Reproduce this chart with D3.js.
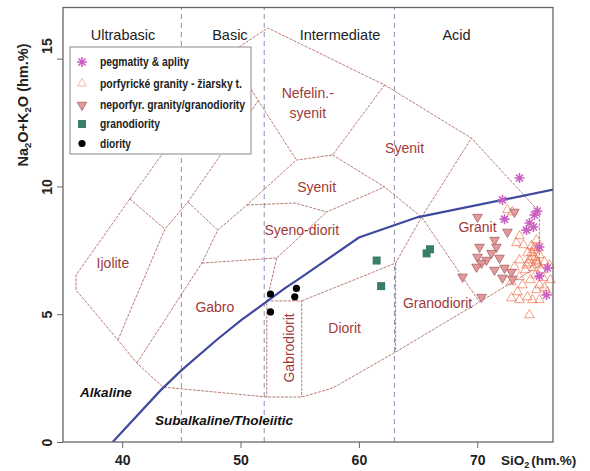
<!DOCTYPE html>
<html><head><meta charset="utf-8">
<script src="https://cdn.jsdelivr.net/npm/d3@7"></script>
<style>body{margin:0;background:#fff}</style>
</head><body><svg id="c" width="590" height="471"></svg>
<script>
// ---- series (SiO2 wt.%, Na2O+K2O wt.%) ----
const pegSiO2 = [73.57,72.13,72.30,74.83,74.41,74.75,74.16,75.25,75.93,75.25,75.85,75.08];
const pegAlk  = [10.33,9.47,8.72,8.88,8.57,8.41,8.29,7.63,6.81,6.49,5.75,9.04];

const porfSiO2 = [72.55,72.97,73.57,73.31,75.00,74.58,74.24,73.57,73.14,73.57,73.82,72.89,73.57,74.24,75.00,74.66,75.25,75.68,76.18,74.41,74.83,75.25,74.41,75.08,74.75,74.07,75.42,74.92,74.49,75.59,75.25,75.93,74.16,74.66,75.17,73.90,75.68,76.10,72.89,73.40,74.60,74.90,75.10,74.30,74.80,75.00];
const porfAlk  = [9.08,9.00,8.06,7.79,7.90,7.67,7.39,7.12,6.85,6.46,6.14,5.63,5.56,5.67,5.95,5.56,5.56,6.03,6.34,4.97,7.51,7.32,7.12,7.04,6.81,6.73,6.73,6.53,6.34,6.42,6.14,5.87,6.92,7.24,7.59,7.71,7.04,6.92,6.26,5.87,7.40,7.20,6.95,7.00,7.60,7.10];

const neporSiO2 = [73.14,70.02,72.55,71.46,70.19,71.62,71.20,70.02,70.78,70.36,69.94,71.46,72.30,72.13,72.89,72.97,68.76,70.36,71.88];
const neporAlk  = [9.00,8.80,8.22,7.90,7.63,7.63,7.39,7.24,7.12,7.00,6.85,6.73,6.81,6.42,6.65,6.38,6.46,5.67,7.20];

const grdSiO2 = [61.50,61.88,65.72,66.01];
const grdAlk  = [7.10,6.10,7.38,7.54];

const dioSiO2 = [52.53,54.72,54.58,52.53];
const dioAlk  = [5.79,6.01,5.68,5.09];

// alkaline / subalkaline divide
const divSiO2 = [39.2,40,43.2,45,48,50,53.7,55,60,65,77];
const divAlk  = [0,0.4,2,2.8,4,4.75,6,6.4,8,8.8,9.93];

// axis ticks and silica classes
const xTicks = [40,50,60,70];
const yTicks = [0,5,10,15];
const classBreaks = [45,52,63];
const classNames = ["Ultrabasic","Basic","Intermediate","Acid"];
const classPos = [40.07,49.1,58.4,68.25];

// field boundary vertices
const V = {
  P1:[36.10,6.53], P2:[36.10,5.95], P3:[40.65,9.51], P4:[43.61,8.33], P5:[39.64,3.99],
  P6:[41.24,3.09], P7:[43.44,2.15], P8:[45.55,9.39], P9:[48.08,8.29], P10:[46.73,7.00],
  P11:[50.53,9.27], P12:[53.06,7.20], P13:[52.22,5.52], P14:[52.22,1.76], P15:[55.17,5.52],
  P16:[55.17,1.76], Pd:[63.1,7.0], P19:[63.1,3.52], P20:[57.78,2.11], P21:[70.19,5.48],
  P22:[65.3,8.8], P23:[69.51,11.89], P24:[75.25,9.0], P25:[75.25,6.89], P26:[62.17,9.98],
  P27:[57.78,11.23], P28:[54.72,11.03], P29:[57.28,9.0], P30:[54.58,9.35], P31:[62.17,13.97],
  P32:[52.3,16.2], Ct:[49.18,14.98], Jt:[51.54,13.38], Nt:[48.98,15.18]
};
const boundaries = [
  ["P3","P1","P2","P5","P6","P7","P14","P16","P20","P19","P21"],
  ["P3","Ct"], ["P3","P4"], ["P5","P4","P8","Jt"], ["P8","P9"],
  ["P6","P10","P9","P11","P28","P27","P31"], ["P10","P12","P29"],
  ["P12","P13","P14"], ["P13","P15","P16"], ["P15","Pd","P22"], ["Pd","P19"],
  ["P11","P30","P29","P26"], ["P27","P26","P22","P21"], ["P22","P23"],
  ["Nt","P28"], ["Nt","P32","P31","P23","P24","P25","P21"]
];

const fieldNames = ["Ijolite","Gabro","Diorit","Syeno-diorit","Syenit","Syenit","Granit","Granodiorit"];
const fieldX = [39.22,47.83,58.80,55.17,56.43,63.86,70.02,66.65];
const fieldY = [7.0,5.28,4.46,8.29,9.98,11.50,8.41,5.44];

const FONT = "Liberation Sans, Arial, sans-serif";
const svg = d3.select("#c");
const x = d3.scaleLinear().domain([35, 76.4]).range([63, 553]);
const y = d3.scaleLinear().domain([0, 17]).range([442, 7.5]);

svg.append("defs").append("clipPath").attr("id","plot")
  .append("rect").attr("x",63).attr("y",7.5).attr("width",490).attr("height",434.5);

const plot = svg.append("g").attr("clip-path","url(#plot)");

// silica class dividers
plot.selectAll("line.cls").data(classBreaks).join("line")
  .attr("x1",d=>x(d)).attr("x2",d=>x(d)).attr("y1",y(0)).attr("y2",y(17))
  .attr("stroke","#8c8fb8").attr("stroke-width",1).attr("stroke-dasharray","5,4");

// field boundaries
const line = d3.line().x(d=>x(d[0])).y(d=>y(d[1]));
plot.selectAll("path.bd").data(boundaries).join("path")
  .attr("d",b=>line(b.map(k=>V[k]))).attr("fill","none")
  .attr("stroke","#a65a52").attr("stroke-width",0.8).attr("stroke-dasharray","3,1.2");

// alkaline/subalkaline divide
plot.append("path").datum(divSiO2.map((s,i)=>[s,divAlk[i]]))
  .attr("d",line).attr("fill","none").attr("stroke","#3f4a9e").attr("stroke-width",2.2);

// class names
svg.selectAll("text.cls").data(classNames).join("text")
  .attr("x",(d,i)=>x(classPos[i])).attr("y",40).attr("text-anchor","middle")
  .attr("font-family",FONT).attr("font-size",14.5).attr("fill","#222")
  .text(d=>d);

// field labels
const fl = svg.append("g").attr("font-family",FONT)
  .attr("font-size",14).attr("fill","#a03a3a").attr("text-anchor","middle");
fl.selectAll("text").data(fieldNames).join("text")
  .attr("x",(d,i)=>x(fieldX[i])).attr("y",(d,i)=>y(fieldY[i])+5).text(d=>d);
fl.append("text").attr("x",x(55.68)).attr("y",y(13.65)+5).text("Nefelin.-");
fl.append("text").attr("x",x(55.68)).attr("y",y(12.99)+5+3).text("syenit");
fl.append("text").attr("transform",`translate(${x(54.07)+5},${y(3.68)}) rotate(-90)`).text("Gabrodiorit");

// labels either side of the divide
const it = svg.append("g").attr("font-family",FONT)
  .attr("font-size",13.5).attr("font-weight","bold").attr("font-style","italic").attr("fill","#111")
  .attr("text-anchor","middle");
it.append("text").attr("x",106).attr("y",397).text("Alkaline");
it.append("text").attr("x",224).attr("y",425).text("Subalkaline/Tholeiitic");

// symbols
const star = s => `M${-s},0H${s}M0,${-s}V${s}M${-s*0.7},${-s*0.7}L${s*0.7},${s*0.7}M${-s*0.7},${s*0.7}L${s*0.7},${-s*0.7}`;
const triUp = s => `M0,${-s}L${s*0.87},${s*0.5}L${-s*0.87},${s*0.5}Z`;
const triDn = s => `M0,${s}L${s*0.87},${-s*0.5}L${-s*0.87},${-s*0.5}Z`;

const pts = svg.append("g");
pts.selectAll("path.porf").data(porfSiO2).join("path")
  .attr("transform",(d,i)=>`translate(${x(d)},${y(porfAlk[i])})`).attr("d",triUp(5.5))
  .attr("fill","none").attr("stroke","#ef6e48").attr("stroke-opacity",0.75).attr("stroke-width",0.9);
pts.selectAll("path.nep").data(neporSiO2).join("path")
  .attr("transform",(d,i)=>`translate(${x(d)},${y(neporAlk[i])})`).attr("d",triDn(5.5))
  .attr("fill","#e49a9a").attr("stroke","#a86262").attr("stroke-width",0.8);
pts.selectAll("path.peg").data(pegSiO2).join("path")
  .attr("transform",(d,i)=>`translate(${x(d)},${y(pegAlk[i])})`).attr("d",star(5))
  .attr("fill","none").attr("stroke","#cc5fc2").attr("stroke-width",1.6);
pts.selectAll("rect.grd").data(grdSiO2).join("rect")
  .attr("x",d=>x(d)-4).attr("y",(d,i)=>y(grdAlk[i])-4).attr("width",8).attr("height",8)
  .attr("fill","#3a7d68");
pts.selectAll("circle.dio").data(dioSiO2).join("circle")
  .attr("cx",d=>x(d)).attr("cy",(d,i)=>y(dioAlk[i])).attr("r",3.6).attr("fill","#000");

// frame
svg.append("rect").attr("x",63).attr("y",7.5).attr("width",490).attr("height",434.5)
  .attr("fill","none").attr("stroke","#666").attr("stroke-width",1.3);

// axes
const xa = svg.append("g").attr("transform","translate(0,442)")
  .call(d3.axisBottom(x).tickValues(xTicks).tickSize(6).tickFormat(d3.format("d")));
xa.select(".domain").remove();
xa.selectAll("line").attr("stroke","#666");
xa.selectAll("text").attr("dy",null).attr("y",23).attr("font-size",14).attr("font-weight","bold")
  .attr("font-family",FONT).attr("fill","#222");

const ya = svg.append("g").attr("transform","translate(63,0)")
  .call(d3.axisLeft(y).tickValues(yTicks).tickSize(6).tickFormat(d3.format("d")));
ya.select(".domain").remove();
ya.selectAll("line").attr("stroke","#666");
// the top label sits above its tick so it clears the frame corner
ya.selectAll("text").attr("x",null).attr("dy",null).attr("text-anchor","middle")
  .attr("transform",d=>`translate(-16,${d===15?-13:0}) rotate(-90)`).attr("y",0).attr("dy","0.35em")
  .attr("font-size",14).attr("font-weight","bold")
  .attr("font-family",FONT).attr("fill","#222");

// axis titles
const xt = svg.append("text").attr("x",501).attr("y",465)
  .attr("font-family",FONT).attr("font-size",13.5)
  .attr("font-weight","bold").attr("fill","#222");
xt.append("tspan").text("SiO");
xt.append("tspan").attr("font-size",9).attr("dy",3).text("2");
xt.append("tspan").attr("dy",-3).text("(hm.%)").attr("dx",2);

const yt = svg.append("text").attr("transform","translate(28,105) rotate(-90)").attr("text-anchor","middle")
  .attr("font-family",FONT).attr("font-size",14.5)
  .attr("font-weight","bold").attr("fill","#222");
yt.append("tspan").text("Na");
yt.append("tspan").attr("font-size",9.5).attr("dy",3).text("2");
yt.append("tspan").attr("dy",-3).text("O+K");
yt.append("tspan").attr("font-size",9.5).attr("dy",3).text("2");
yt.append("tspan").attr("dy",-3).text("O (hm.%)");

// legend
const legNames = ["pegmatity & aplity","porfyrické granity - žiarsky t.","neporfyr. granity/granodiority","granodiority","diority"];
const legW = [89,142,145,60,31];
const legY = [62,83.5,105,124,143.5];
const lg = svg.append("g");
lg.append("rect").attr("x",70).attr("y",47).attr("width",181).attr("height",107)
  .attr("fill","#fff").attr("stroke","#888").attr("stroke-width",1);
lg.append("path").attr("transform",`translate(82,${legY[0]})`).attr("d",star(5)).attr("fill","none")
  .attr("stroke","#cc5fc2").attr("stroke-width",1.6);
lg.append("path").attr("transform",`translate(82,${legY[1]})`).attr("d",triUp(5))
  .attr("fill","none").attr("stroke","#f3b08e").attr("stroke-width",0.9);
lg.append("path").attr("transform",`translate(82,${legY[2]})`).attr("d",triDn(5.5))
  .attr("fill","#e49a9a").attr("stroke","#a86262").attr("stroke-width",0.8);
lg.append("rect").attr("x",78).attr("y",legY[3]-4).attr("width",8).attr("height",8).attr("fill","#3a7d68");
lg.append("circle").attr("cx",82).attr("cy",legY[4]).attr("r",3.6).attr("fill","#000");
lg.selectAll("text").data(legNames).join("text")
  .attr("x",100).attr("y",(d,i)=>legY[i]+4)
  .attr("textLength",(d,i)=>legW[i]).attr("lengthAdjust","spacingAndGlyphs")
  .attr("font-family",FONT)
  .attr("font-size",12).attr("font-weight","bold").attr("fill","#222").text(d=>d);
</script></body></html>
